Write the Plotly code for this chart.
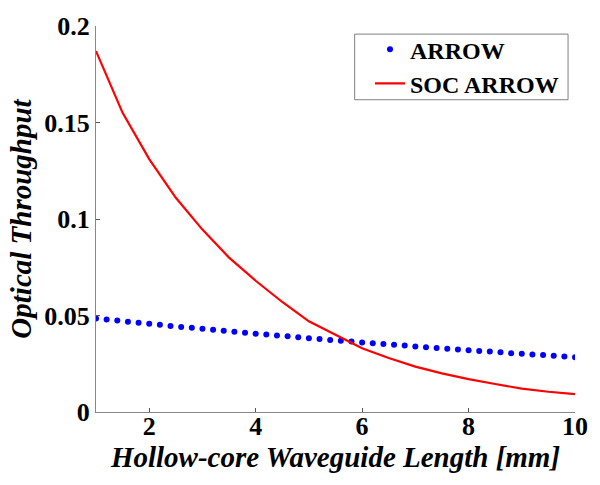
import plotly.graph_objects as go

# ARROW (dotted markers) data
arrow_x = [round(1 + 0.2 * i, 1) for i in range(46)]
arrow_y = [0.0485, 0.0479, 0.0474, 0.0468, 0.0463, 0.0457, 0.0452, 0.0446, 0.0441, 0.0436,
           0.0431, 0.0426, 0.0421, 0.0416, 0.0411, 0.0406, 0.0401, 0.0396, 0.0392, 0.0387,
           0.0382, 0.0378, 0.0373, 0.0369, 0.0365, 0.0360, 0.0356, 0.0352, 0.0348, 0.0344,
           0.0340, 0.0336, 0.0332, 0.0328, 0.0324, 0.0320, 0.0316, 0.0313, 0.0309, 0.0305,
           0.0302, 0.0298, 0.0295, 0.0291, 0.0288, 0.0284]

# SOC ARROW (solid line) data
soc_x = [1, 1.5, 2, 2.5, 3, 3.5, 4, 4.5, 5, 5.5, 6, 6.5, 7, 7.5, 8, 8.5, 9, 9.5, 10]
soc_y = [0.187, 0.155, 0.131, 0.111, 0.0945, 0.080, 0.068, 0.057, 0.047, 0.040, 0.033,
         0.028, 0.0235, 0.020, 0.0170, 0.0145, 0.0121, 0.0105, 0.0093]

x_ticks = [2, 4, 6, 8, 10]
y_ticks = [0, 0.05, 0.1, 0.15, 0.2]
y_tick_text = ["0", "0.05", "0.1", "0.15", "0.2"]

FONT = "Liberation Serif, Times New Roman, serif"

fig = go.Figure()
fig.add_trace(go.Scatter(x=arrow_x, y=arrow_y, mode="markers", name="ARROW",
                         marker=dict(color="#0000FF", size=6)))
fig.add_trace(go.Scatter(x=soc_x, y=soc_y, mode="lines", name="SOC ARROW",
                         line=dict(color="#FF0000", width=2.2)))

# legend frame
fig.add_shape(type="rect", xref="paper", yref="paper",
              x0=0.540, x1=0.9855, y0=0.809, y1=0.979,
              line=dict(color="#808080", width=1), fillcolor="white", layer="above")

fig.update_layout(
    width=600, height=485,
    margin=dict(l=96, r=21, t=24, b=73),
    paper_bgcolor="white", plot_bgcolor="white",
    font=dict(family=FONT, color="black"),
    showlegend=True,
    legend=dict(x=0.977, y=0.997, xanchor="right", yanchor="top",
                borderwidth=0, bgcolor="rgba(0,0,0,0)",
                font=dict(family=FONT, size=24, weight="bold", color="black")),
    xaxis=dict(range=[1, 10], tickvals=x_ticks, showgrid=False, zeroline=False,
               showline=True, linecolor="#888888", linewidth=1,
               ticks="inside", ticklen=4, tickcolor="#555555", ticklabelstandoff=-9,
               tickfont=dict(family=FONT, size=26, weight="bold"),
               title=dict(text="Hollow-core Waveguide Length [mm]", standoff=0,
                          font=dict(family=FONT, size=29, weight="bold", style="italic"))),
    yaxis=dict(range=[0, 0.2], tickvals=y_ticks, ticktext=y_tick_text, showgrid=False,
               zeroline=False, showline=True, linecolor="#888888", linewidth=1,
               ticks="inside", ticklen=4, tickcolor="#555555",
               tickfont=dict(family=FONT, size=26, weight="bold"),
               title=dict(text="Optical Throughput", standoff=4,
                          font=dict(family=FONT, size=29, weight="bold", style="italic"))),
)

fig.write_html("out.html", config={"displayModeBar": False},
               post_script="document.body.style.margin='0px';")
